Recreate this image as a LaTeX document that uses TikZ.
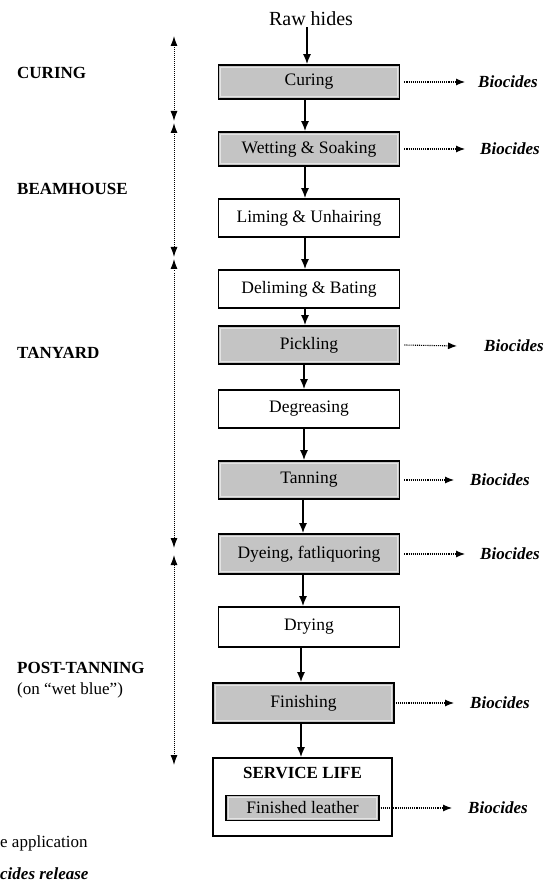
\documentclass[tikz,border=0pt]{standalone}
\usepackage{fontspec}
\setmainfont{Liberation Serif}
\usetikzlibrary{arrows.meta}
\definecolor{procgray}{RGB}{196,196,196}
\definecolor{insetgray}{RGB}{228,228,228}
\tikzset{
  proc/.style={draw, line width=1.6pt, minimum width=181pt, minimum height=38pt, inner sep=0pt, font=\fontsize{17.5}{20}\selectfont},
  grayproc/.style={proc, fill=procgray,
    path picture={\draw[insetgray, line width=0.9pt]
      ([shift={(2.2pt,-2.2pt)}]path picture bounding box.north west) rectangle
      ([shift={(-2.2pt,2.2pt)}]path picture bounding box.south east);}},
  flow/.style={-{Latex[length=10pt,width=8pt]}, line width=1.6pt},
  rel/.style={densely dotted, line width=1.1pt, -{Latex[length=9pt,width=7pt]}},
  phase/.style={densely dotted, line width=1pt, {Latex[length=10pt,width=7pt]}-{Latex[length=10pt,width=7pt]}},
  bio/.style={anchor=west, inner sep=0pt, font=\fontsize{17}{20}\selectfont\bfseries\itshape},
  stage/.style={anchor=west, inner sep=0pt, font=\fontsize{17}{20}\selectfont\bfseries},
  plain/.style={anchor=west, inner sep=0pt, font=\fontsize{17}{20}\selectfont},
}
\begin{document}
\begin{tikzpicture}[x=1pt,y=-1pt]
\useasboundingbox (0,0) rectangle (555,882);
% main flow
\node[inner sep=1pt, font=\fontsize{20}{24}\selectfont] (raw) at (311,19) {Raw hides};
\node[grayproc, minimum height=34pt] (cur) at (309,82) {Curing};
\node[grayproc, minimum height=34pt] (wet) at (309,149) {Wetting \& Soaking};
\node[proc] (lim) at (309,218) {Liming \& Unhairing};
\node[proc] (del) at (309,289) {Deliming \& Bating};
\node[grayproc] (pic) at (309,345) {Pickling};
\node[proc] (deg) at (309,409) {Degreasing};
\node[grayproc] (tan) at (309,480) {Tanning};
\node[grayproc, minimum height=40pt] (dye) at (309,554) {Dyeing, fatliquoring};
\node[proc, minimum height=40pt] (dry) at (309,627) {Drying};
\node[grayproc, minimum height=40pt] (fin) at (303.5,703) {Finishing};
\node[proc, minimum width=179pt, minimum height=78pt] (ser) at (302.5,797) {};
\node[inner sep=0pt, font=\fontsize{17}{20}\selectfont\bfseries] (sertxt) at (302.5,773) {SERVICE LIFE};
\node[grayproc, line width=1.4pt, minimum width=153pt, minimum height=25pt] (fl) at (302.5,808) {Finished leather};

\draw[flow] ([xshift=-4pt]raw.south) -- ([xshift=-2pt]cur.north);
\draw[flow] ([xshift=-4pt]cur.south) -- ([xshift=-4pt]wet.north);
\draw[flow] ([xshift=-4pt]wet.south) -- ([xshift=-4pt]lim.north);
\draw[flow] ([xshift=-4pt]lim.south) -- ([xshift=-4pt]del.north);
\draw[flow] ([xshift=-4pt]del.south) -- ([xshift=-4pt]pic.north);
\draw[flow] ([xshift=-5pt]pic.south) -- ([xshift=-5pt]deg.north);
\draw[flow] ([xshift=-5pt]deg.south) -- ([xshift=-5pt]tan.north);
\draw[flow] ([xshift=-6pt]tan.south) -- ([xshift=-6pt]dye.north);
\draw[flow] ([xshift=-6pt]dye.south) -- ([xshift=-6pt]dry.north);
\draw[flow] ([xshift=-8pt]dry.south) -- ([xshift=-2.5pt]fin.north);
\draw[flow] ([xshift=-2.5pt]fin.south) -- ([xshift=-1.5pt]ser.north);

% biocides
\node[bio] (b1) at (478,82) {Biocides};
\node[bio] (b2) at (480,149) {Biocides};
\node[bio] (b3) at (484,346) {Biocides};
\node[bio] (b4) at (470,480) {Biocides};
\node[bio] (b5) at (480,554) {Biocides};
\node[bio] (b6) at (470,703) {Biocides};
\node[bio] (b7) at (468,808) {Biocides};
\draw[rel] ([xshift=4pt]cur.east) -- ([xshift=-13pt]b1.west);
\draw[rel] ([xshift=4pt]wet.east) -- ([xshift=-15pt]b2.west);
\draw[rel] ([xshift=4pt]pic.east) -- ([xshift=-27pt]b3.west);
\draw[rel] ([xshift=4pt]tan.east) -- ([xshift=-16pt]b4.west);
\draw[rel] ([xshift=4pt]dye.east) -- ([xshift=-15pt]b5.west);
\draw[rel] ([xshift=1pt]fin.east) -- ([xshift=-16pt]b6.west);
\draw[rel] ([xshift=1pt]fl.east) -- ([xshift=-16pt]b7.west);

% phases
\coordinate (p1a) at (174,36);
\coordinate (p1b) at (174,121);
\coordinate (p2a) at (174,123);
\coordinate (p2b) at (174,257);
\coordinate (p3a) at (174,259);
\coordinate (p3b) at (174,548);
\coordinate (p4a) at (174,555);
\coordinate (p4b) at (174,765);
\draw[phase] (p1a) -- (p1b);
\draw[phase] (p2a) -- (p2b);
\draw[phase] (p3a) -- (p3b);
\draw[phase] (p4a) -- (p4b);

\node[stage] (s1) at (17,73) {CURING};
\node[stage] (s2) at (17,189) {BEAMHOUSE};
\node[stage] (s3) at (17,353) {TANYARD};
\node[stage] (s4) at (17,668) {POST-TANNING};
\node[plain] (s4b) at (17,690) {(on “wet blue”)};

% legend (cut at the left edge)
\node[plain] (lg1) at (0,843) {e application};
\node[bio] (lg2) at (0,874) {cides release};
\end{tikzpicture}
\end{document}
